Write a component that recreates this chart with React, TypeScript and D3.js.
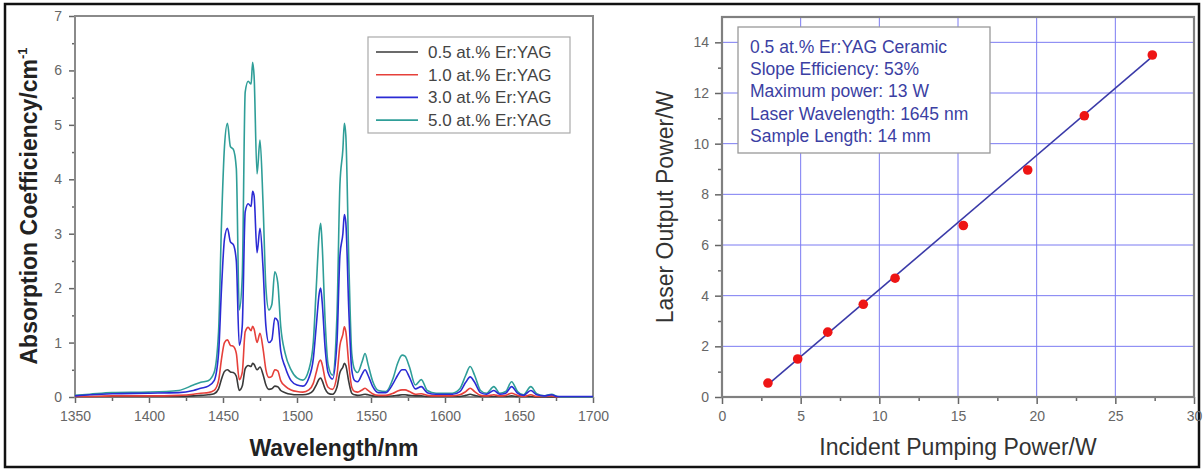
import React, { useEffect, useRef } from 'react';
import * as d3 from 'd3';

// ---------- Left panel: absorption spectra ----------
const wavelengths = [
  1350, 1360, 1375, 1400, 1420, 1430, 1435, 1440, 1444, 1447,
  1449, 1451, 1453, 1455, 1457, 1459, 1461, 1463, 1465, 1467,
  1469, 1470, 1471, 1473, 1475, 1477, 1479, 1481, 1483, 1485,
  1487, 1489, 1492, 1496, 1500, 1504, 1508, 1511, 1513, 1515,
  1516, 1517, 1519, 1521, 1524, 1527, 1529, 1531, 1532, 1533,
  1535, 1537, 1539, 1541, 1544, 1546, 1548, 1551, 1555, 1560,
  1565, 1568, 1571, 1573, 1576, 1580, 1584, 1588, 1594, 1605,
  1610, 1614, 1617, 1620, 1624, 1628, 1633, 1637, 1641, 1645,
  1649, 1653, 1658, 1662, 1667, 1672, 1676, 1680, 1700,
];
const abs50 = [
  0.03, 0.05, 0.08, 0.09, 0.12, 0.22, 0.27, 0.30, 0.45, 1.2,
  3.2, 4.6, 5.03, 4.6, 4.55, 4.2, 1.6, 2.2, 5.6, 5.8,
  5.75, 6.15, 5.9, 4.1, 4.72, 3.6, 2.0, 1.6, 1.7, 2.3,
  2.1, 1.3, 0.8, 0.5, 0.35, 0.31, 0.5, 1.0, 2.0, 3.0,
  3.19, 2.8, 1.4, 0.6, 0.4, 1.5, 3.9, 4.55, 5.03, 4.8,
  2.5, 0.8, 0.5, 0.45, 0.65, 0.8, 0.6, 0.3, 0.12, 0.1,
  0.35, 0.62, 0.77, 0.75, 0.55, 0.22, 0.32, 0.12, 0.07, 0.07,
  0.15, 0.4, 0.56, 0.4, 0.12, 0.07, 0.19, 0.07, 0.1, 0.28,
  0.1, 0.04, 0.19, 0.06, 0.02, 0.05, 0.01, 0.0, 0.0,
];
const abs30 = [
  0.02, 0.04, 0.06, 0.07, 0.08, 0.12, 0.16, 0.20, 0.30, 0.8,
  2.0, 2.9, 3.1, 2.85, 2.8, 2.5, 0.95, 1.3, 3.4, 3.55,
  3.5, 3.78, 3.7, 2.65, 3.1, 2.4, 1.3, 1.0, 1.05, 1.45,
  1.4, 0.85, 0.55, 0.3, 0.22, 0.2, 0.35, 0.7, 1.3, 1.9,
  2.0, 1.75, 0.9, 0.45, 0.33, 1.0, 2.6, 3.0, 3.35, 3.2,
  1.6, 0.5, 0.3, 0.28, 0.42, 0.5, 0.4, 0.2, 0.08, 0.08,
  0.25, 0.4, 0.5, 0.5, 0.36, 0.15, 0.19, 0.08, 0.05, 0.05,
  0.1, 0.27, 0.37, 0.27, 0.08, 0.05, 0.12, 0.05, 0.07, 0.19,
  0.07, 0.03, 0.12, 0.04, 0.02, 0.04, 0.01, 0.01, 0.01,
];
const abs10 = [
  0.01, 0.01, 0.02, 0.02, 0.03, 0.05, 0.07, 0.08, 0.12, 0.3,
  0.7, 1.0, 1.05, 0.95, 0.93, 0.8, 0.32, 0.45, 1.2, 1.28,
  1.22, 1.3, 1.25, 1.0, 1.17, 0.9, 0.5, 0.36, 0.38, 0.5,
  0.48, 0.3, 0.2, 0.13, 0.1, 0.09, 0.13, 0.25, 0.45, 0.65,
  0.68, 0.6, 0.33, 0.18, 0.14, 0.4, 0.95, 1.15, 1.29, 1.2,
  0.6, 0.18, 0.1, 0.09, 0.13, 0.16, 0.12, 0.06, 0.03, 0.03,
  0.07, 0.11, 0.13, 0.13, 0.1, 0.05, 0.06, 0.03, 0.02, 0.02,
  0.04, 0.1, 0.16, 0.1, 0.03, 0.02, 0.04, 0.02, 0.03, 0.07,
  0.03, 0.01, 0.04, 0.01, 0.01, 0.02, 0.0, 0.0, 0.0,
];
const abs05 = [
  0.01, 0.01, 0.01, 0.01, 0.01, 0.02, 0.03, 0.04, 0.06, 0.15,
  0.33, 0.47, 0.5, 0.46, 0.45, 0.38, 0.12, 0.2, 0.52, 0.58,
  0.56, 0.62, 0.6, 0.5, 0.55, 0.42, 0.22, 0.14, 0.15, 0.2,
  0.19, 0.12, 0.08, 0.05, 0.04, 0.04, 0.06, 0.12, 0.22, 0.33,
  0.35, 0.3, 0.15, 0.07, 0.05, 0.18, 0.45, 0.55, 0.62, 0.58,
  0.28, 0.07, 0.04, 0.03, 0.04, 0.05, 0.04, 0.02, 0.01, 0.01,
  0.02, 0.03, 0.04, 0.04, 0.03, 0.02, 0.02, 0.01, 0.01, 0.01,
  0.01, 0.03, 0.05, 0.03, 0.01, 0.01, 0.01, 0.01, 0.01, 0.02,
  0.01, 0.01, 0.01, 0.0, 0.0, 0.0, 0.0, 0.0, 0.0,
];
const seriesLabels = ['0.5 at.% Er:YAG', '1.0 at.% Er:YAG', '3.0 at.% Er:YAG', '5.0 at.% Er:YAG'];
const seriesColors = ['#3a3a3a', '#e6403a', '#2b2bd4', '#2f9e98'];
const wlTicks = [1350, 1400, 1450, 1500, 1550, 1600, 1650, 1700];
const wlMinorTicks = [1375, 1425, 1475, 1525, 1575, 1625, 1675];
const absTicks = [0, 1, 2, 3, 4, 5, 6, 7];
const absMinorTicks = [0.5, 1.5, 2.5, 3.5, 4.5, 5.5, 6.5];

// ---------- Right panel: laser output ----------
const pumpPower = [2.92, 4.81, 6.72, 8.98, 11.0, 15.34, 19.43, 23.03, 27.35];
const outputPower = [0.55, 1.5, 2.56, 3.66, 4.69, 6.77, 8.96, 11.1, 13.5];
const fitSlope = 0.53;
const fitIntercept = -1.06;
const fitRange = [3.1, 27.2];
const pumpTicks = [0, 5, 10, 15, 20, 25, 30];
const pumpMinorTicks = [2.5, 7.5, 12.5, 17.5, 22.5, 27.5];
const outTicks = [0, 2, 4, 6, 8, 10, 12, 14];
const outMinorTicks = [1, 3, 5, 7, 9, 11, 13];
const infoLines = [
  '0.5 at.% Er:YAG Ceramic',
  'Slope Efficiency: 53%',
  'Maximum power: 13 W',
  'Laser Wavelength: 1645 nm',
  'Sample Length: 14 mm',
];

const FONT = "'Liberation Sans', Arial, sans-serif";

export default function App() {
  const ref = useRef<SVGSVGElement>(null);

  useEffect(() => {
    const svg = d3.select(ref.current);
    svg.selectAll('*').remove();

    svg.append('rect').attr('x', 0).attr('y', 0).attr('width', 1203).attr('height', 471).attr('fill', '#fff');
    svg.append('rect').attr('x', 5).attr('y', 4).attr('width', 1194).attr('height', 463)
      .attr('fill', 'none').attr('stroke', '#111').attr('stroke-width', 2.5);

    // ===== Left chart =====
    const x = d3.scaleLinear().domain([1350, 1700]).range([75, 593]);
    const y = d3.scaleLinear().domain([0, 7]).range([397, 16]);
    const gL = svg.append('g');

    const styleAxis = (g: any, size: number) => {
      g.select('.domain').remove();
      g.selectAll('line').attr('stroke', '#666').attr('stroke-width', 1.5);
      g.selectAll('text').attr('fill', '#666').attr('font-family', FONT).attr('font-size', size);
    };

    gL.append('g').attr('transform', 'translate(0,397)')
      .call(d3.axisBottom(x).tickValues(wlMinorTicks).tickSize(4).tickFormat(() => ''))
      .call((g: any) => styleAxis(g, 14));
    gL.append('g').attr('transform', 'translate(0,397)')
      .call(d3.axisBottom(x).tickValues(wlTicks).tickSize(6).tickPadding(8).tickFormat(d3.format('d')))
      .call((g: any) => styleAxis(g, 14));
    gL.append('g').attr('transform', 'translate(75,0)')
      .call(d3.axisLeft(y).tickValues(absMinorTicks).tickSize(3).tickFormat(() => ''))
      .call((g: any) => styleAxis(g, 14));
    gL.append('g').attr('transform', 'translate(75,0)')
      .call(d3.axisLeft(y).tickValues(absTicks).tickSize(6).tickPadding(7).tickFormat(d3.format('d')))
      .call((g: any) => styleAxis(g, 14));

    gL.append('rect').attr('x', x(1350)).attr('y', y(7)).attr('width', x(1700) - x(1350)).attr('height', y(0) - y(7))
      .attr('fill', 'none').attr('stroke', '#8a8a8a').attr('stroke-width', 2);

    const allSeries = [abs05, abs10, abs30, abs50];
    const order = [0, 1, 3, 2];
    const line = d3.line<number>()
      .x((_, i) => x(wavelengths[i]))
      .y((d) => y(d))
      .curve(d3.curveMonotoneX);
    order.forEach((si) => {
      gL.append('path').datum(allSeries[si].slice(0, wavelengths.length))
        .attr('d', line as any).attr('fill', 'none')
        .attr('stroke', seriesColors[si]).attr('stroke-width', 1.6).attr('stroke-linejoin', 'round');
    });

    // legend
    const lg = gL.append('g');
    lg.append('rect').attr('x', 368).attr('y', 37).attr('width', 202).attr('height', 96)
      .attr('fill', '#fff').attr('stroke', '#aaa').attr('stroke-width', 1.2);
    seriesLabels.forEach((lab, i) => {
      const cy = 52 + i * 22.7;
      lg.append('line').attr('x1', 376).attr('x2', 418).attr('y1', cy).attr('y2', cy)
        .attr('stroke', seriesColors[i]).attr('stroke-width', 1.6);
      lg.append('text').attr('x', 428).attr('y', cy + 6).text(lab)
        .attr('font-family', FONT).attr('font-size', 17).attr('fill', '#444');
    });

    gL.append('text').attr('x', 334).attr('y', 456).attr('text-anchor', 'middle')
      .attr('font-family', FONT).attr('font-weight', 'bold').attr('font-size', 23).attr('fill', '#222')
      .text('Wavelength/nm');
    const yt = gL.append('text').attr('transform', 'translate(37,206) rotate(-90)').attr('text-anchor', 'middle')
      .attr('font-family', FONT).attr('font-weight', 'bold').attr('font-size', 23).attr('fill', '#222');
    yt.append('tspan').text('Absorption Coefficiency/cm');
    yt.append('tspan').attr('font-size', 13).attr('dy', -10).text('-1');

    // ===== Right chart =====
    const x2 = d3.scaleLinear().domain([0, 30]).range([722, 1194]);
    const y2 = d3.scaleLinear().domain([0, 15]).range([397, 17]);
    const gR = svg.append('g');

    gR.append('g').selectAll('line').data(pumpTicks.filter((t) => t > 0 && t < 30)).join('line')
      .attr('x1', (d) => x2(d)).attr('x2', (d) => x2(d)).attr('y1', y2(0)).attr('y2', y2(15))
      .attr('stroke', '#7b7bf2').attr('stroke-width', 1);
    gR.append('g').selectAll('line').data(outTicks.filter((t) => t > 0)).join('line')
      .attr('x1', x2(0)).attr('x2', x2(30)).attr('y1', (d) => y2(d)).attr('y2', (d) => y2(d))
      .attr('stroke', '#7b7bf2').attr('stroke-width', 1);

    gR.append('g').attr('transform', 'translate(0,397)')
      .call(d3.axisBottom(x2).tickValues(pumpMinorTicks).tickSize(4).tickFormat(() => ''))
      .call((g: any) => styleAxis(g, 14));
    gR.append('g').attr('transform', 'translate(0,397)')
      .call(d3.axisBottom(x2).tickValues(pumpTicks).tickSize(7).tickPadding(7).tickFormat(d3.format('d')))
      .call((g: any) => styleAxis(g, 14));
    gR.append('g').attr('transform', 'translate(722,0)')
      .call(d3.axisLeft(y2).tickValues(outMinorTicks).tickSize(4).tickFormat(() => ''))
      .call((g: any) => styleAxis(g, 14));
    gR.append('g').attr('transform', 'translate(722,0)')
      .call(d3.axisLeft(y2).tickValues(outTicks).tickSize(7).tickPadding(6).tickFormat(d3.format('d')))
      .call((g: any) => styleAxis(g, 14));

    gR.append('rect').attr('x', x2(0)).attr('y', y2(15)).attr('width', x2(30) - x2(0)).attr('height', y2(0) - y2(15))
      .attr('fill', 'none').attr('stroke', '#808080').attr('stroke-width', 2.2);

    // info box
    gR.append('rect').attr('x', 738).attr('y', 27).attr('width', 252).attr('height', 126)
      .attr('fill', '#fff').attr('stroke', '#999').attr('stroke-width', 1.3);
    infoLines.forEach((t, i) => {
      gR.append('text').attr('x', 750).attr('y', 53 + i * 22.2).text(t)
        .attr('font-family', FONT).attr('font-size', 17.5).attr('fill', '#3b3fa3');
    });

    // fit line
    gR.append('line')
      .attr('x1', x2(fitRange[0])).attr('y1', y2(fitSlope * fitRange[0] + fitIntercept))
      .attr('x2', x2(fitRange[1])).attr('y2', y2(fitSlope * fitRange[1] + fitIntercept))
      .attr('stroke', '#3a3aa8').attr('stroke-width', 1.6);

    gR.append('g').selectAll('circle').data(pumpPower).join('circle')
      .attr('cx', (d) => x2(d)).attr('cy', (_, i) => y2(outputPower[i])).attr('r', 4.8)
      .attr('fill', '#ee1515');

    gR.append('text').attr('x', 958).attr('y', 455).attr('text-anchor', 'middle')
      .attr('font-family', FONT).attr('font-size', 23).attr('fill', '#333')
      .text('Incident Pumping Power/W');
    gR.append('text').attr('transform', 'translate(673,207) rotate(-90)').attr('text-anchor', 'middle')
      .attr('font-family', FONT).attr('font-size', 23).attr('fill', '#333')
      .text('Laser Output Power/W');
  }, []);

  return (
    <svg ref={ref} width={1203} height={471} style={{ position: 'absolute', left: 0, top: 0, display: 'block' }} />
  );
}
